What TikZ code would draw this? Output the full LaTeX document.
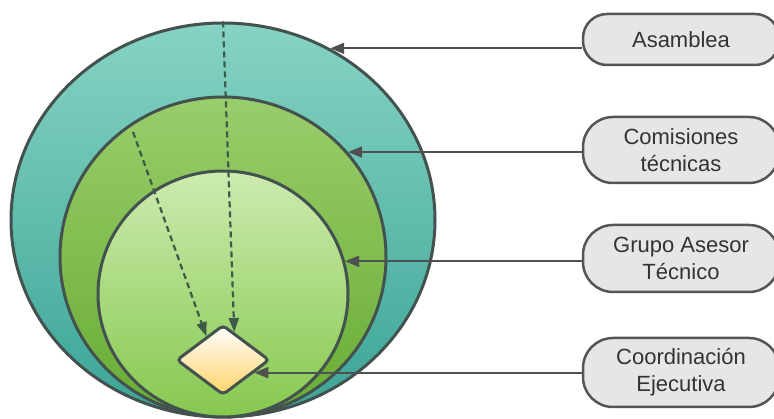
\documentclass[tikz,border=0pt]{standalone}
\usepackage{fontspec}
\setmainfont{Liberation Sans}
\usetikzlibrary{arrows.meta,shapes.geometric}
\definecolor{rgline}{HTML}{44524F}
\definecolor{asTop}{HTML}{86D3C3}
\definecolor{asBot}{HTML}{3BA596}
\definecolor{cmTop}{HTML}{9ACD6B}
\definecolor{cmBot}{HTML}{67AC33}
\definecolor{grTop}{HTML}{CDEBB0}
\definecolor{grBot}{HTML}{86C84E}
\definecolor{crBot}{HTML}{FFD36B}
\definecolor{tagfill}{HTML}{E6E6E6}
\definecolor{tagline}{HTML}{555555}
\definecolor{tagtext}{HTML}{333333}
\definecolor{arline}{HTML}{505050}
\definecolor{dashline}{HTML}{3D5A48}
\tikzset{
  ring/.style={ellipse, draw=rgline, line width=3pt, inner sep=0pt},
  tag/.style={rectangle, rounded corners=24pt, draw=tagline, fill=tagfill, line width=2.5pt,
              minimum width=196pt, align=center, text=tagtext, inner sep=2pt,
              font=\fontsize{22}{27}\selectfont},
  ar/.style={-{Triangle[length=14pt,width=11pt]}, draw=arline, line width=2pt},
  dar/.style={-{Triangle[length=14pt,width=10pt]}, draw=dashline, line width=2.2pt,
              dash pattern=on 6pt off 4pt},
}
\begin{document}
\begin{tikzpicture}[x=1pt,y=-1pt]
\useasboundingbox (0,0) rectangle (774,419);
% --- nested rings
\node[ring, minimum width=424pt, minimum height=394pt, top color=asTop, bottom color=asBot] (rAsam) at (223,220) {};
\node[ring, minimum width=326pt, minimum height=320pt, top color=cmTop, bottom color=cmBot] (rComis) at (223,257) {};
\node[ring, minimum width=250pt, minimum height=246pt, top color=grTop, bottom color=grBot] (rGrupo) at (223,294) {};
\node[diamond, aspect=1.33, rounded corners=4pt, draw=rgline, line width=3pt, inner sep=0pt,
      minimum width=93pt, minimum height=70pt, top color=white, bottom color=crBot] (dCoord) at (223,360) {};

% --- dashed links to the core
\coordinate (cStart) at (133,132);
\draw[dar] (rAsam.north) -- (dCoord.68);
\draw[dar] (cStart) -- (dCoord.125);

% --- labels
\node[tag, minimum height=51pt] (lAsam) at (681,39.5) {Asamblea};
\node[tag, rounded corners=30pt, minimum height=66pt] (lComis) at (681,150) {Comisiones\\técnicas};
\node[tag, rounded corners=30pt, minimum height=67pt] (lGrupo) at (681,258.5) {Grupo Asesor\\Técnico};
\node[tag, rounded corners=30pt, minimum height=69pt] (lCoord) at (681,372.5) {Coordinación\\Ejecutiva};
\draw[ar] (lAsam.west |- rAsam.58) -- (rAsam.58);
\draw[ar] (lComis.west |- rComis.40) -- (rComis.40);
\draw[ar] (lGrupo.west |- rGrupo.15) -- (rGrupo.15);
\draw[ar] (lCoord.west |- dCoord.-22) -- (dCoord.-22);
\end{tikzpicture}
\end{document}
